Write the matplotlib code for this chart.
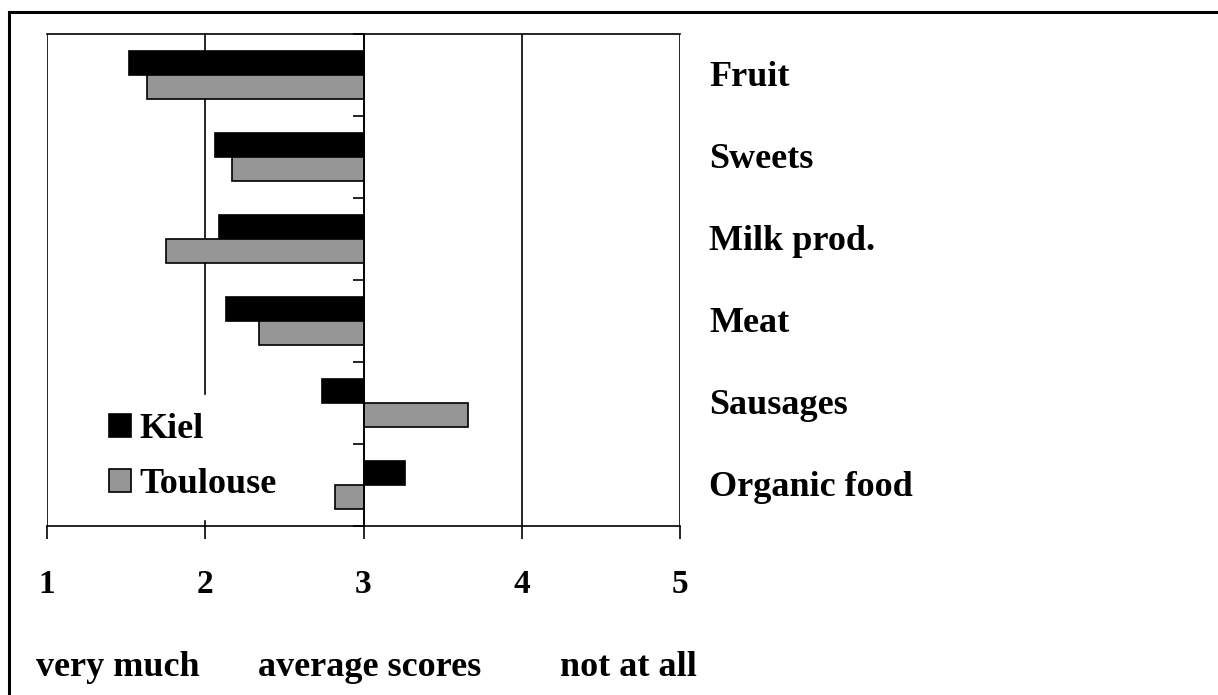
import matplotlib
matplotlib.use("Agg")
import matplotlib.pyplot as plt
from matplotlib.lines import Line2D
from matplotlib.patches import Patch

plt.rcParams['font.family'] = ['Liberation Serif', 'DejaVu Serif']
plt.rcParams['font.weight'] = 'bold'

# average scores on a 1 (very much) .. 5 (not at all) scale
categories = ["Fruit", "Sweets", "Milk prod.", "Meat", "Sausages", "Organic food"]
kiel = [1.52, 2.06, 2.09, 2.13, 2.74, 3.26]
toulouse = [1.63, 2.17, 1.75, 2.34, 3.66, 2.82]
x_ticks = [1, 2, 3, 4, 5]
scale_labels = ["very much", "average scores", "not at all"]

W, H = 1218, 695
fig = plt.figure(figsize=(W / 100, H / 100), dpi=100)
ax = fig.add_axes([47 / W, 1 - 526 / H, 633 / W, 492 / H])

h = 0.29
ypos = list(range(len(categories)))
ax.barh([y - h / 2 for y in ypos], [k - 3 for k in kiel], left=3, height=h,
        color="black", edgecolor="black", linewidth=1.2, zorder=3)
ax.barh([y + h / 2 for y in ypos], [t - 3 for t in toulouse], left=3, height=h,
        color="#969696", edgecolor="black", linewidth=1.2, zorder=3)

ax.set_xlim(1, 5)
ax.set_ylim(len(categories) - 0.5, -0.5)

# vertical axis crosses at the midpoint 3
for side in ["bottom", "top"]:
    ax.spines[side].set_linewidth(1.2)
ax.spines["right"].set_visible(False)
ax.spines["left"].set_position(("data", 3))
ax.spines["left"].set_linewidth(1.2)
ax.spines["left"].set_zorder(4)

ax.set_xticks(x_ticks)
ax.set_xticklabels([str(v) for v in x_ticks], fontsize=24, fontweight="bold")
ax.tick_params(axis="x", direction="out", length=9, width=1.2, pad=22)
ax.xaxis.grid(True, color="black", linewidth=1.2)
ax.set_axisbelow(True)

ax.set_yticks([y - 0.5 for y in range(len(categories) + 1)])
ax.set_yticklabels([])
ax.tick_params(axis="y", direction="out", length=8, width=1.2)

for y, name in zip(ypos, categories):
    ax.text(709 / W, 1 - (77 + 82.2 * y) / H, name, transform=fig.transFigure,
            fontsize=26, fontweight="bold", va="center", ha="left")

fs = 26
handles = [Patch(facecolor="black", edgecolor="black", linewidth=1.2, label="Kiel"),
           Patch(facecolor="#969696", edgecolor="black", linewidth=1.2, label="Toulouse")]
leg = ax.legend(handles=handles, loc="center left",
                bbox_to_anchor=((109 - 0.5 * fs * 100 / 72) / W, 1 - 457 / H),
                bbox_transform=fig.transFigure, borderaxespad=0,
                frameon=True, fancybox=False, framealpha=1, edgecolor="white",
                prop={"size": fs, "weight": "bold"}, handlelength=0.6,
                handleheight=0.6, handletextpad=0.25, labelspacing=0.6,
                borderpad=0.5)
leg.set_zorder(5)

for x, s in zip([36, 258, 560], scale_labels):
    fig.text(x / W, 1 - 667 / H, s, fontsize=26, fontweight="bold",
             va="center", ha="left")

# page border along top and left
fig.add_artist(Line2D([9 / W, 9 / W], [0, 1 - 12 / H], color="black",
                      linewidth=2.2, transform=fig.transFigure))
fig.add_artist(Line2D([9 / W, 1], [1 - 12 / H, 1 - 12 / H], color="black",
                      linewidth=2.2, transform=fig.transFigure))

fig.savefig("out.png", dpi=100)
